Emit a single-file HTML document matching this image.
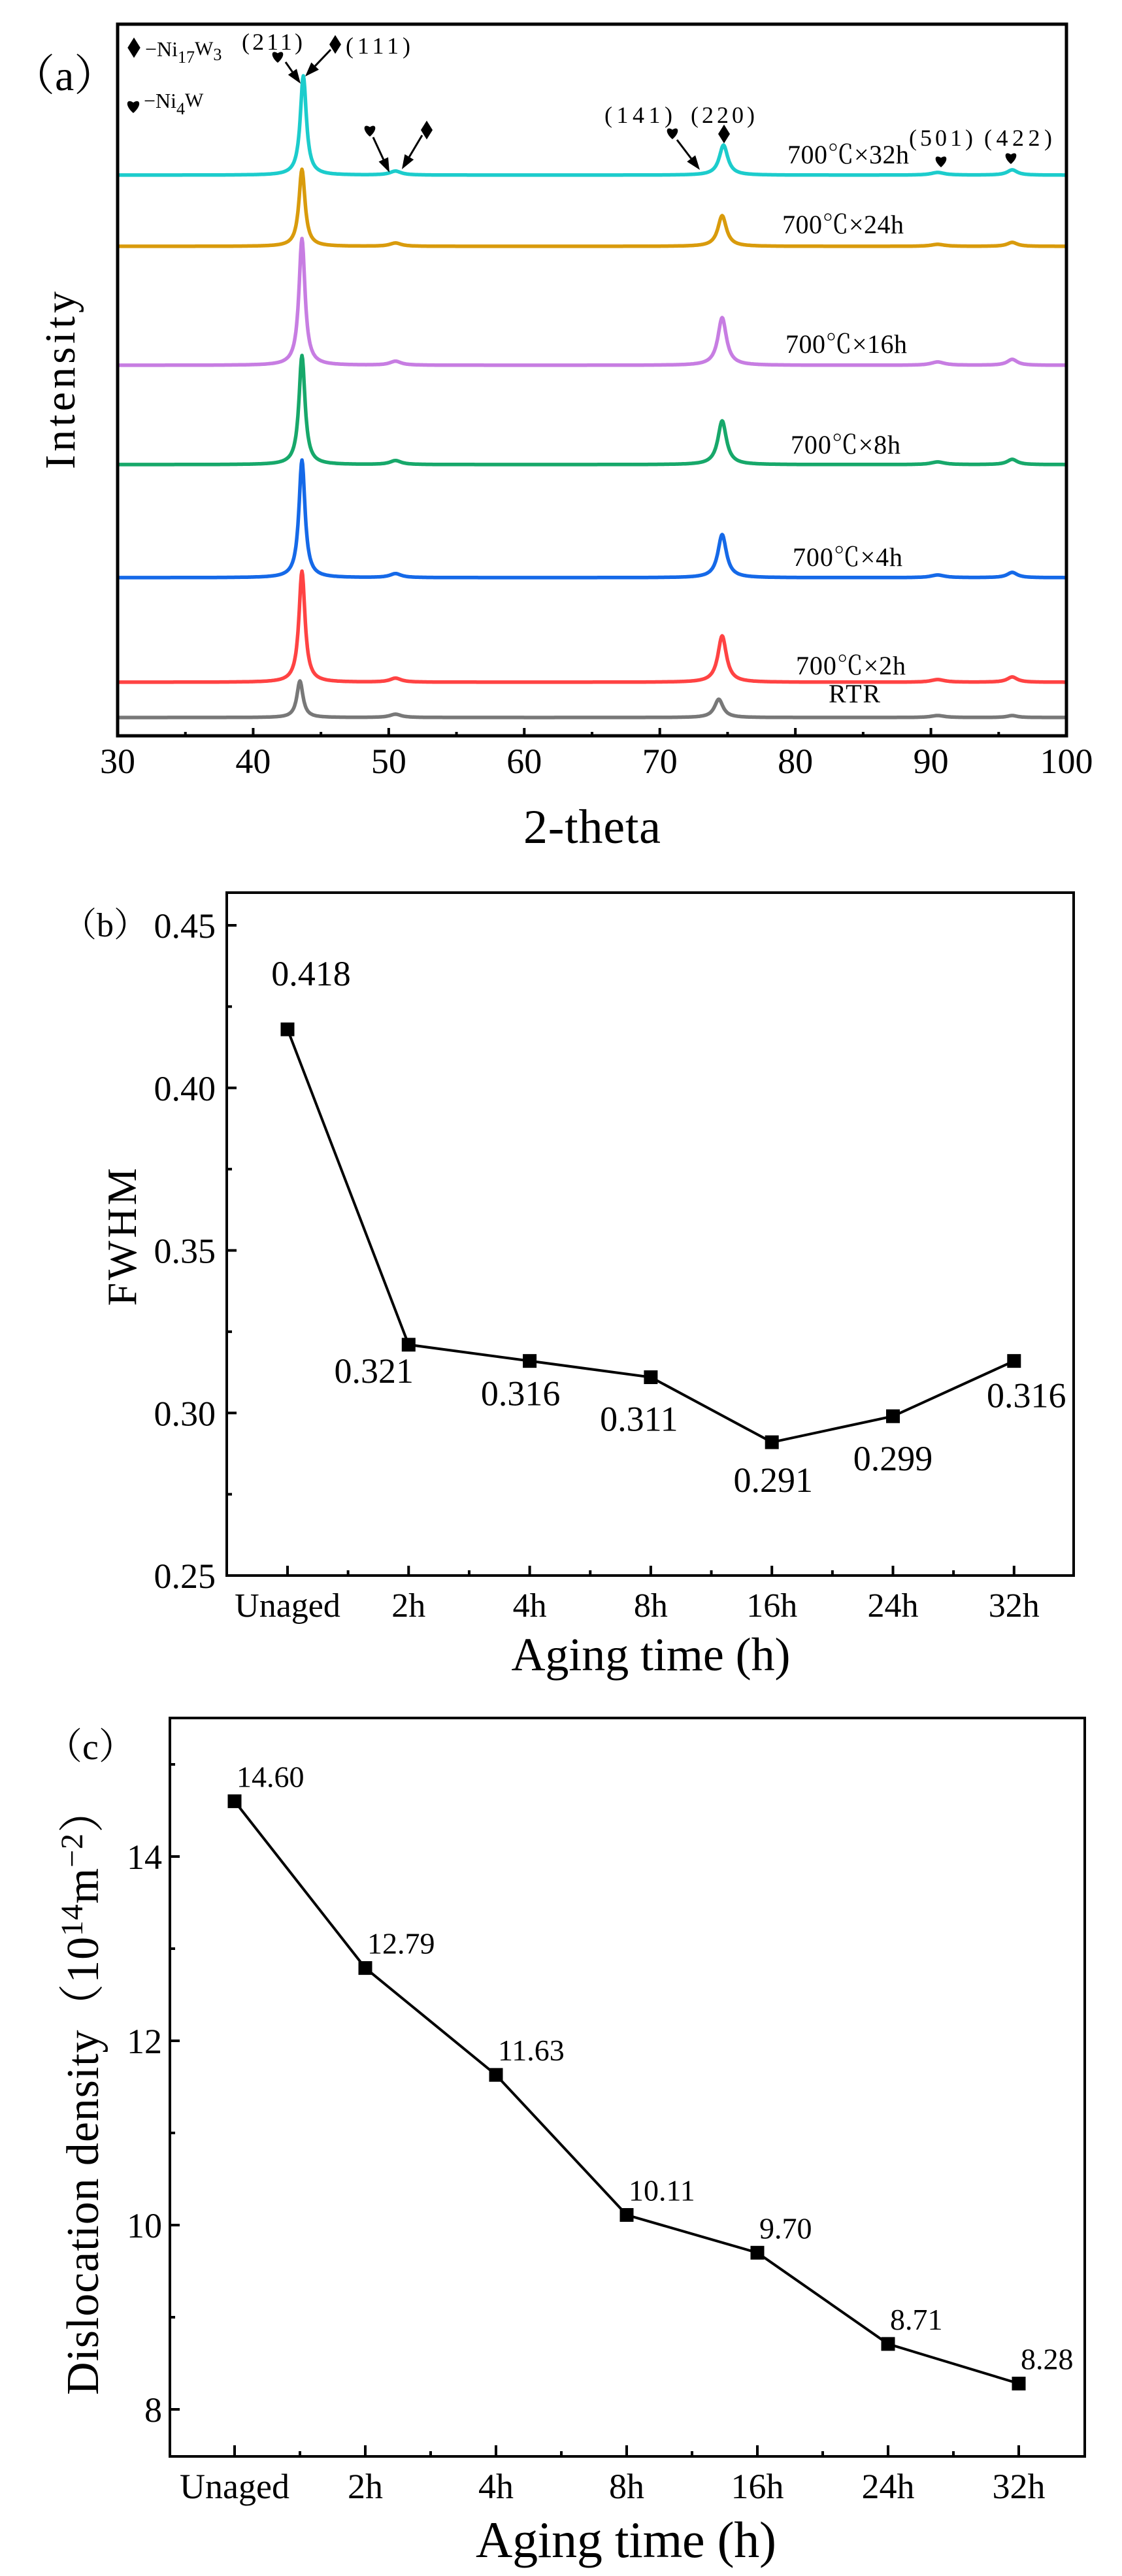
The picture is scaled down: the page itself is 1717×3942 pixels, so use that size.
<!DOCTYPE html>
<html><head><meta charset="utf-8"><style>
html,body{margin:0;padding:0;background:#fff;}
svg{display:block;font-family:"Liberation Serif","Times New Roman","Noto Serif CJK SC",serif;}
</style></head><body>
<svg id="fig" width="1717" height="3942" viewBox="0 0 1717 3942" xmlns="http://www.w3.org/2000/svg"></svg>
<script>
// ---------- Panel (a) XRD data ----------
const seriesNames = ["RTR","700℃×2h","700℃×4h","700℃×8h","700℃×16h","700℃×24h","700℃×32h"];
const seriesColors = ["#787878","#ff4343","#1569e8","#17a86a","#c77de2","#d99b0c","#1ccccc"];
const baselines = [28, 82, 242, 415, 567, 749, 858];
const peak111Pos = [43.45, 43.6, 43.6, 43.6, 43.6, 43.6, 43.7];
const peak111Height = [56, 170, 180, 167, 194, 118, 152];
const peak220Pos = [74.35, 74.6, 74.6, 74.6, 74.6, 74.6, 74.7];
const peak220Height = [28, 71, 66, 67, 73, 47, 46];
const peak50Height = [5, 6, 6, 6, 6, 5, 6];
const peak90Height = [3, 4, 4, 4, 5, 3, 4];
const peak96Height = [3, 8, 8, 8, 9, 6, 8];
const xTicksA = [30,40,50,60,70,80,90,100];
// ---------- Panel (b) FWHM ----------
const categories = ["Unaged","2h","4h","8h","16h","24h","32h"];
const fwhmValues = [0.418, 0.321, 0.316, 0.311, 0.291, 0.299, 0.316];
const fwhmTicks = [0.25, 0.30, 0.35, 0.40, 0.45];
const fwhmTickLabels = ["0.25","0.30","0.35","0.40","0.45"];
// ---------- Panel (c) dislocation density ----------
const densityValues = [14.60, 12.79, 11.63, 10.11, 9.70, 8.71, 8.28];
const densityTicks = [8, 10, 12, 14];
const densityLabels = ["14.60","12.79","11.63","10.11","9.70","8.71","8.28"];

const NS = "http://www.w3.org/2000/svg";
const svg = document.getElementById("fig");
function el(tag, attrs, parent){
  const e = document.createElementNS(NS, tag);
  for (const k in attrs) e.setAttribute(k, attrs[k]);
  (parent||svg).appendChild(e);
  return e;
}
function txt(x,y,s,size,anchor,parent){
  const t = el("text",{x:x,y:y,"font-size":size,"text-anchor":anchor||"start",fill:"#000"},parent);
  t.textContent = s;
  return t;
}
function heart(cx,cy,s,parent){
  return el("path",{d:`M${cx},${cy+s} C${cx-s*1.3},${cy-s*0.1} ${cx-s*0.9},${cy-s*1.1} ${cx},${cy-s*0.45} C${cx+s*0.9},${cy-s*1.1} ${cx+s*1.3},${cy-s*0.1} ${cx},${cy+s} Z`,fill:"#000"},parent);
}
function diamond(cx,cy,s,parent){
  return el("polygon",{points:`${cx},${cy-s*1.2} ${cx+s*0.75},${cy} ${cx},${cy+s*1.2} ${cx-s*0.75},${cy}`,fill:"#000"},parent);
}
function arrow(x1,y1,x2,y2,parent){
  const g = el("g",{},parent);
  const dx=x2-x1, dy=y2-y1, L=Math.hypot(dx,dy), ux=dx/L, uy=dy/L;
  const hl=22, hw=8;
  el("line",{x1:x1,y1:y1,x2:x2-ux*hl,y2:y2-uy*hl,stroke:"#000","stroke-width":3},g);
  el("polygon",{points:`${x2},${y2} ${x2-ux*hl-uy*hw},${y2-uy*hl+ux*hw} ${x2-ux*hl+uy*hw},${y2-uy*hl-ux*hw}`,fill:"#000"},g);
  return g;
}

// ===== Panel A =====
const A = {l:180,r:1632,t:37,b:1126,xmin:30,xmax:100};
function ax(v){return A.l+(v-A.xmin)/(A.xmax-A.xmin)*(A.r-A.l);}
function ay(v){return A.b - v;}
function lor(x,x0,g){return g*g/((x-x0)*(x-x0)+g*g);}
const gA = el("g",{});


for(let i=0;i<seriesNames.length;i++){
  let d="";
  for(let x=30;x<=100.0001;x+=0.05){
    const I = baselines[i] + peak111Height[i]*lor(x,peak111Pos[i],0.27)
      + peak220Height[i]*lor(x,peak220Pos[i],0.38)
      + peak50Height[i]*lor(x,50.5,0.5)
      + peak90Height[i]*lor(x,90.5,0.6)
      + peak96Height[i]*lor(x,96,0.45);
    d += (d?"L":"M")+ax(x).toFixed(1)+","+ay(I).toFixed(1);
  }
  const p = el("path",{d:d,fill:"none",stroke:seriesColors[i],"stroke-width":5.5,"stroke-linejoin":"round"},gA);
  
  
}
const labelPos = [[1268,1075],[1218,1032],[1213,866],[1210,694],[1202,540],[1197,357],[1205,250]];
for(let i=0;i<seriesNames.length;i++){
  const t = txt(labelPos[i][0],labelPos[i][1],seriesNames[i],40,"start",gA);
  t.setAttribute("textLength", i===0?79:(seriesNames[i].length>7?186:168));
  
  
}
const frA = el("rect",{x:A.l,y:A.t,width:A.r-A.l,height:A.b-A.t,fill:"none",stroke:"#000","stroke-width":5},gA);


for(let v=30; v<=100; v+=5){
  const major = v%10===0;
  el("line",{x1:ax(v),x2:ax(v),y1:A.b,y2:A.b-(major?12:6),stroke:"#000","stroke-width":4},gA);
}
xTicksA.forEach(v=>{
  const t = txt(ax(v),1183,String(v),54,"middle",gA);
  
  
});
let t;
t = txt(906,1290,"2-theta",74,"middle",gA);
t.setAttribute("textLength",210);


t = txt(0,0,"Intensity",66,"middle",gA);
t.setAttribute("transform","translate(114,582) rotate(-90)");
t.setAttribute("textLength",272);


t = txt(18,138,"（a）",66,"start",gA);


const gAnn = el("g",{},gA);


diamond(205,73,13,gAnn);
t = txt(222,86,"−Ni",32,"start",gAnn);
let ts = el("tspan",{dy:10,"font-size":26},t); ts.textContent="17";
ts = el("tspan",{dy:-12,"font-size":30},t); ts.textContent="W";
ts = el("tspan",{dy:8,"font-size":26},t); ts.textContent="3";


heart(204,162,11,gAnn);
t = txt(220,165,"−Ni",32,"start",gAnn);
ts = el("tspan",{dy:10,"font-size":26},t); ts.textContent="4";
ts = el("tspan",{dy:-12,"font-size":30},t); ts.textContent="W";


txt(370,76,"(211)",36,"start",gAnn).setAttribute("textLength",93);
heart(425,86,10,gAnn);
arrow(437,95,460,128,gAnn);
diamond(513,68,12,gAnn);
arrow(506,76,467,117,gAnn);
txt(529,82,"(111)",36,"start",gAnn).setAttribute("textLength",99);
heart(566,199,10,gAnn);
arrow(571,210,596,264,gAnn);
diamond(653,199,12,gAnn);
arrow(646,207,615,259,gAnn);
txt(925,188,"(141)",36,"start",gAnn).setAttribute("textLength",104);
txt(1057,188,"(220)",36,"start",gAnn).setAttribute("textLength",98);
heart(1029,203,10,gAnn);
arrow(1036,214,1071,260,gAnn);
diamond(1108,205,12,gAnn);
txt(1391,223,"(501)",36,"start",gAnn).setAttribute("textLength",98);
txt(1506,223,"(422)",36,"start",gAnn).setAttribute("textLength",104);
heart(1440,246,10,gAnn);
heart(1547,241,10,gAnn);

// ===== Panel B =====
const B = {l:347,r:1643,t:1366,b:2411,x0:440,dx:185.3};
function bx(i){return B.x0+i*B.dx;}
function by(v){return B.b-(v-0.25)*4975;}
const gB = el("g",{});


const frB = el("rect",{x:B.l,y:B.t,width:B.r-B.l,height:B.b-B.t,fill:"none",stroke:"#000","stroke-width":4},gB);


fwhmTicks.forEach((v,i)=>{
  el("line",{x1:B.l,x2:B.l+15,y1:by(v),y2:by(v),stroke:"#000","stroke-width":4},gB);
  if(i<fwhmTicks.length-1) el("line",{x1:B.l,x2:B.l+8,y1:by(v+0.025),y2:by(v+0.025),stroke:"#000","stroke-width":4},gB);
  const tl = txt(B.l-17,by(v)+19,fwhmTickLabels[i],54,"end",gB);
  
  
});
categories.forEach((c,i)=>{
  el("line",{x1:bx(i),x2:bx(i),y1:B.b,y2:B.b-15,stroke:"#000","stroke-width":4},gB);
  if(i<categories.length-1) el("line",{x1:bx(i+0.5),x2:bx(i+0.5),y1:B.b,y2:B.b-8,stroke:"#000","stroke-width":4},gB);
  const tl = txt(bx(i),2474,c,52,"middle",gB);
  
  
});
const lineB = el("polyline",{points:fwhmValues.map((v,i)=>bx(i)+","+by(v)).join(" "),fill:"none",stroke:"#000","stroke-width":4},gB);


const fwhmLabelOff = [[36,-67],[-53,58],[-14,68],[-18,82],[2,76],[0,83],[19,71]];
fwhmValues.forEach((v,i)=>{
  const m = el("rect",{x:bx(i)-10.5,y:by(v)-10.5,width:21,height:21,fill:"#000"},gB);
  
  
  const lt = txt(bx(i)+fwhmLabelOff[i][0],by(v)+fwhmLabelOff[i][1],v.toFixed(3),54,"middle",gB);
  
  
});
t = txt(996,2556,"Aging time (h)",72,"middle",gB);
t.setAttribute("textLength",427);


t = txt(0,0,"FWHM",64,"middle",gB);
t.setAttribute("transform","translate(208,1893) rotate(-90)");
t.setAttribute("textLength",211);


t = txt(96,1433,"（b）",52,"start",gB);



// ===== Panel C =====
const C = {l:260,r:1660,t:2629,b:3759,x0:359,dx:200};
function cx(i){return C.x0+i*C.dx;}
function cy(v){return 3687-(v-8)*141;}
const gC = el("g",{});


const frC = el("rect",{x:C.l,y:C.t,width:C.r-C.l,height:C.b-C.t,fill:"none",stroke:"#000","stroke-width":4},gC);


densityTicks.forEach(v=>{
  el("line",{x1:C.l,x2:C.l+15,y1:cy(v),y2:cy(v),stroke:"#000","stroke-width":4},gC);
  el("line",{x1:C.l,x2:C.l+8,y1:cy(v+1),y2:cy(v+1),stroke:"#000","stroke-width":4},gC);
  const tl = txt(C.l-12,cy(v)+19,String(v),54,"end",gC);
  
  
});
categories.forEach((c,i)=>{
  el("line",{x1:cx(i),x2:cx(i),y1:C.b,y2:C.b-17,stroke:"#000","stroke-width":4},gC);
  if(i<categories.length-1) el("line",{x1:cx(i+0.5),x2:cx(i+0.5),y1:C.b,y2:C.b-8,stroke:"#000","stroke-width":4},gC);
  const tl = txt(cx(i),3823,c,54,"middle",gC);
  
  
});
const lineC = el("polyline",{points:densityValues.map((v,i)=>cx(i)+","+cy(v)).join(" "),fill:"none",stroke:"#000","stroke-width":4},gC);


densityValues.forEach((v,i)=>{
  const m = el("rect",{x:cx(i)-10.5,y:cy(v)-10.5,width:21,height:21,fill:"#000"},gC);
  
  
  const lt = txt(cx(i)+3,cy(v)-22,densityLabels[i],46,"start",gC);
  
  
});
t = txt(958,3913,"Aging time (h)",78,"middle",gC);
t.setAttribute("textLength",460);


t = txt(0,0,"Dislocation density（10",70,"middle",gC);
ts = el("tspan",{dy:-24,"font-size":48},t); ts.textContent="14";
ts = el("tspan",{dy:24},t); ts.textContent="m";
ts = el("tspan",{dy:-24,"font-size":48},t); ts.textContent="−2";
ts = el("tspan",{dy:24},t); ts.textContent="）";
t.setAttribute("transform","translate(150,3200) rotate(-90)");
t.setAttribute("textLength",930);


t = txt(70,2692,"（c）",56,"start",gC);


</script>
</body></html>
